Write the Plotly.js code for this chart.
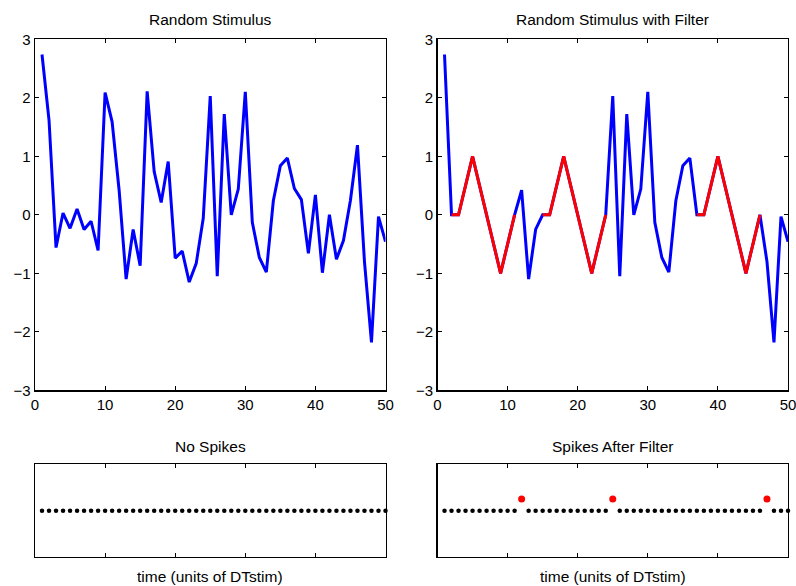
<!DOCTYPE html>
<html>
<head>
<meta charset="utf-8">
<script src="https://cdn.plot.ly/plotly-3.0.1.min.js"></script>
<style>
html,body{margin:0;padding:0;background:#fff;}
#chart{width:796px;height:586px;}
</style>
</head>
<body>
<div id="chart"></div>
<script>
// time axis (units of DTstim)
var time = [1,2,3,4,5,6,7,8,9,10,11,12,13,14,15,16,17,18,19,20,21,22,23,24,25,
            26,27,28,29,30,31,32,33,34,35,36,37,38,39,40,41,42,43,44,45,46,47,48,49,50];

// random stimulus (left panel)
var stimulus = [2.74,1.62,-0.56,0.03,-0.23,0.10,-0.25,-0.11,-0.61,2.09,
                1.59,0.42,-1.10,-0.25,-0.87,2.11,0.74,0.21,0.91,-0.74,
                -0.62,-1.15,-0.83,-0.06,2.03,-1.05,1.72,0.00,0.44,2.10,
                -0.13,-0.73,-0.98,0.24,0.84,0.97,0.45,0.26,-0.66,0.34,
                -0.99,0.00,-0.76,-0.44,0.25,1.19,-0.80,-2.18,-0.03,-0.46];

// random stimulus with the filter pattern inserted (right panel)
var stimulusWithFilter = [2.74,0,0,0.5,1,0.5,0,-0.5,-1,-0.5,
                          0,0.42,-1.10,-0.25,0,0,0.5,1,0.5,0,
                          -0.5,-1,-0.5,0,2.03,-1.05,1.72,0.00,0.44,2.10,
                          -0.13,-0.73,-0.98,0.24,0.84,0.97,0,0,0.5,1,
                          0.5,0,-0.5,-1,-0.5,0,-0.80,-2.18,-0.03,-0.46];

// filter segments (first and last time step of each inserted filter)
var filterSegments = [[2,11],[15,24],[37,46]];

// spike trains (0 = no spike, 1 = spike)
var spikesNone = [0,0,0,0,0,0,0,0,0,0,0,0,0,0,0,0,0,0,0,0,0,0,0,0,0,
                  0,0,0,0,0,0,0,0,0,0,0,0,0,0,0,0,0,0,0,0,0,0,0,0,0];
var spikesFilter = [0,0,0,0,0,0,0,0,0,0,0,1,0,0,0,0,0,0,0,0,0,0,0,0,1,
                    0,0,0,0,0,0,0,0,0,0,0,0,0,0,0,0,0,0,0,0,0,1,0,0,0];

var titles = ["Random Stimulus","Random Stimulus with Filter","No Spikes","Spikes After Filter"];
var xLabel = "time (units of DTstim)";

var FONT = "Liberation Sans, Arial, Helvetica, sans-serif";
var traces = [];

traces.push({x: time, y: stimulus, type: 'scatter', mode: 'lines',
  line: {color: '#0000ff', width: 3}, xaxis: 'x', yaxis: 'y', hoverinfo: 'skip'});

traces.push({x: time, y: stimulusWithFilter, type: 'scatter', mode: 'lines',
  line: {color: '#0000ff', width: 3}, xaxis: 'x2', yaxis: 'y2', hoverinfo: 'skip'});

filterSegments.forEach(function(seg){
  var xs = [], ys = [];
  for (var i = 0; i < time.length; i++) {
    if (time[i] >= seg[0] && time[i] <= seg[1]) { xs.push(time[i]); ys.push(stimulusWithFilter[i]); }
  }
  traces.push({x: xs, y: ys, type: 'scatter', mode: 'lines',
    line: {color: '#ff0000', width: 3}, xaxis: 'x2', yaxis: 'y2', hoverinfo: 'skip'});
});

function spikeTraces(spk, xa, ya) {
  var bx = [], by = [], rx = [], ry = [];
  for (var i = 0; i < time.length; i++) {
    if (spk[i] > 0) { rx.push(time[i]); ry.push(spk[i]); }
    else { bx.push(time[i]); by.push(spk[i]); }
  }
  traces.push({x: bx, y: by, type: 'scatter', mode: 'markers', cliponaxis: false,
    marker: {color: '#000000', size: 4.5}, xaxis: xa, yaxis: ya, hoverinfo: 'skip'});
  if (rx.length) traces.push({x: rx, y: ry, type: 'scatter', mode: 'markers', cliponaxis: false,
    marker: {color: '#ff0000', size: 7}, xaxis: xa, yaxis: ya, hoverinfo: 'skip'});
}
spikeTraces(spikesNone, 'x3', 'y3');
spikeTraces(spikesFilter, 'x4', 'y4');

var dxL = [35/796, 385.5/796], dxR = [437.5/796, 788/796];
var dyT = [(586-390.3)/586, (586-39.3)/586], dyB = [(586-557)/586, (586-464.3)/586];

function xax(dom, anchor, labels) {
  return {domain: dom, anchor: anchor, range: [0,50], tickvals: [0,10,20,30,40,50],
    ticktext: labels ? ['0','10','20','30','40','50'] : ['','','','','',''],
    ticks: 'inside', ticklen: 4, tickwidth: 1, tickcolor: '#000',
    showline: true, linecolor: '#000', linewidth: 1.3, mirror: 'allticks',
    showgrid: false, zeroline: false, fixedrange: true, ticklabeloverflow: 'allow',
    tickfont: {family: FONT, size: 15, color: '#000'}};
}
function yax(dom, anchor, top) {
  if (top) return {domain: dom, anchor: anchor, range: [-3,3], tickvals: [-3,-2,-1,0,1,2,3],
    ticks: 'inside', ticklen: 4, tickwidth: 1, tickcolor: '#000',
    showline: true, linecolor: '#000', linewidth: 1.3, mirror: 'allticks',
    showgrid: false, zeroline: false, fixedrange: true, ticklabeloverflow: 'allow',
    tickfont: {family: FONT, size: 15, color: '#000'}};
  return {domain: dom, anchor: anchor, range: [-4,4], tickvals: [], ticks: '',
    showticklabels: false, showline: true, linecolor: '#000', linewidth: 1.3, mirror: true,
    showgrid: false, zeroline: false, fixedrange: true};
}

function ann(text, xc, ypx) {
  return {text: text, xref: 'paper', yref: 'paper', x: xc, y: (586-ypx)/586,
    xanchor: 'center', yanchor: 'middle', showarrow: false,
    font: {family: FONT, size: 15.5, color: '#000'}};
}
var cL = (dxL[0]+dxL[1])/2, cR = (dxR[0]+dxR[1])/2;

var layout = {
  width: 796, height: 586, margin: {l:0, r:0, t:0, b:0},
  paper_bgcolor: '#fff', plot_bgcolor: '#fff', showlegend: false,
  xaxis: xax(dxL, 'y', true), yaxis: yax(dyT, 'x', true),
  xaxis2: xax(dxR, 'y2', true), yaxis2: yax(dyT, 'x2', true),
  xaxis3: xax(dxL, 'y3', false), yaxis3: yax(dyB, 'x3', false),
  xaxis4: xax(dxR, 'y4', false), yaxis4: yax(dyB, 'x4', false),
  annotations: [
    ann(titles[0], cL, 19), ann(titles[1], cR, 19),
    ann(titles[2], cL, 446), ann(titles[3], cR, 446),
    ann(xLabel, cL, 576), ann(xLabel, cR, 576)
  ]
};

Plotly.newPlot('chart', traces, layout, {displayModeBar: false, staticPlot: true});
</script>
</body>
</html>
